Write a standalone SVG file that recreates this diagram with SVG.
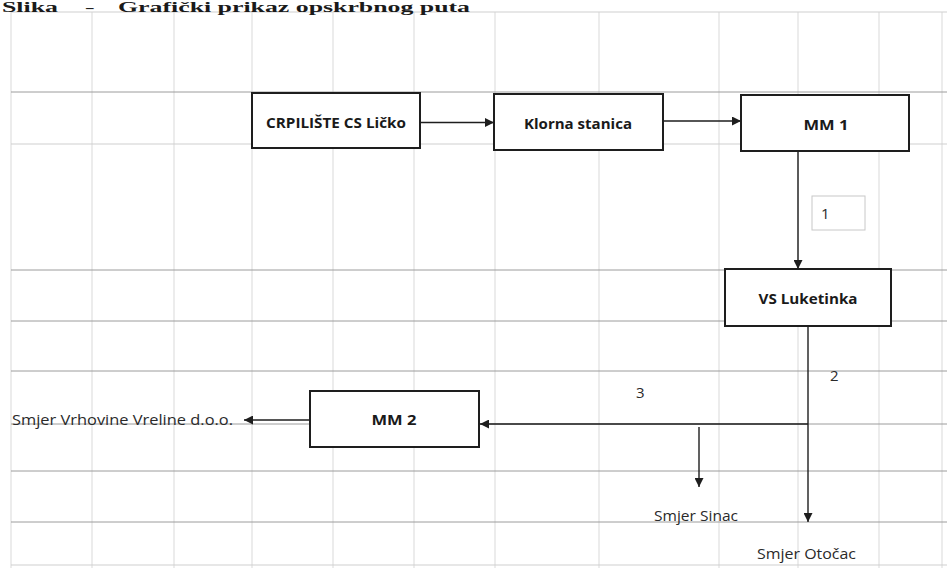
<svg xmlns="http://www.w3.org/2000/svg" width="947" height="568" viewBox="0 0 947 568">
<defs>
<style>
.bg{fill:#ffffff}
.gv{stroke:#d9d9d9;stroke-width:1;fill:none}
.gh{stroke:#9c9c9c;stroke-width:1;fill:none}
.gh2{stroke:#cfcfcf;stroke-width:1;fill:none}
.box{fill:#ffffff;stroke:#1e1e1e;stroke-width:2}
.lbox{fill:#ffffff;stroke:#c8c8c8;stroke-width:1}
.bl{font-family:"Open Sans","Liberation Sans",sans-serif;font-weight:bold;font-size:15px;fill:#1a1a1a;text-anchor:middle}
.tx{font-family:"Open Sans","Liberation Sans",sans-serif;font-size:15px;fill:#2a2a2a}
.hd{font-family:"Liberation Serif",serif;font-weight:bold;font-size:15px;fill:#1a1a1a}
.con{stroke:#1e1e1e;stroke-width:1.4;fill:none}
</style>
<marker id="ah" viewBox="0 0 10 10" refX="10" refY="5" markerWidth="9" markerHeight="9" markerUnits="userSpaceOnUse" orient="auto">
<path d="M0,0 L10,5 L0,10 z" fill="#1e1e1e"/>
</marker>
</defs>
<rect class="bg" x="0" y="0" width="947" height="568"/>
<g id="grid">
<path class="gv" d="M11,12V568M92,12V568M174,12V568M252,12V568M333,12V568M414,12V568M495,12V568M599,12V568M719,12V568M798,12V568M879,12V568M942,12V568"/>
<path class="gh2" d="M11,12H947M11,144H947M11,565H947"/>
<path class="gh" d="M11,92H947M11,270H947M11,321H947M11,371H947M11,424H947M11,471H947M11,522H947"/>
</g>
<g id="header">
<text class="hd" x="2" y="12" textLength="56" lengthAdjust="spacingAndGlyphs">Slika</text>
<text class="hd" x="86" y="12">–</text>
<text class="hd" x="118" y="12" textLength="352" lengthAdjust="spacingAndGlyphs">Grafički prikaz opskrbnog puta</text>
</g>
<g id="connectors">
<path class="con" d="M420,122.5H494" marker-end="url(#ah)"/>
<path class="con" d="M663,121H741" marker-end="url(#ah)"/>
<path class="con" d="M798,151V269" marker-end="url(#ah)"/>
<path class="con" d="M808,326V522" marker-end="url(#ah)"/>
<path class="con" d="M808,424H480" marker-end="url(#ah)"/>
<path class="con" d="M699,427V487" marker-end="url(#ah)"/>
<path class="con" d="M310,420H244" marker-end="url(#ah)"/>
</g>
<g id="n-crpiliste">
<rect class="box" x="252" y="93" width="168" height="55"/>
<text class="bl" x="336" y="128" textLength="140" lengthAdjust="spacingAndGlyphs">CRPILIŠTE CS Ličko</text>
</g>
<g id="n-klorna">
<rect class="box" x="494" y="94" width="169" height="56"/>
<text class="bl" x="578" y="129" textLength="108" lengthAdjust="spacingAndGlyphs">Klorna stanica</text>
</g>
<g id="n-mm1">
<rect class="box" x="741" y="95" width="168" height="56"/>
<text class="bl" x="826" y="130" textLength="45" lengthAdjust="spacingAndGlyphs">MM 1</text>
</g>
<g id="n-label1">
<rect class="lbox" x="812" y="196" width="53" height="34"/>
<text class="tx" x="821" y="219">1</text>
</g>
<g id="n-vs">
<rect class="box" x="725" y="269" width="166" height="57"/>
<text class="bl" x="808" y="304" textLength="99" lengthAdjust="spacingAndGlyphs">VS Luketinka</text>
</g>
<g id="n-mm2">
<rect class="box" x="310" y="391" width="169" height="56"/>
<text class="bl" x="394" y="425" textLength="45" lengthAdjust="spacingAndGlyphs">MM 2</text>
</g>
<g id="labels">
<text class="tx" x="830" y="381">2</text>
<text class="tx" x="636" y="398">3</text>
<text class="tx" x="12" y="425" textLength="221" lengthAdjust="spacingAndGlyphs">Smjer Vrhovine Vreline d.o.o.</text>
<text class="tx" x="654" y="521" textLength="84" lengthAdjust="spacingAndGlyphs">Smjer Sinac</text>
<text class="tx" x="757" y="559" textLength="99" lengthAdjust="spacingAndGlyphs">Smjer Otočac</text>
</g>
</svg>
